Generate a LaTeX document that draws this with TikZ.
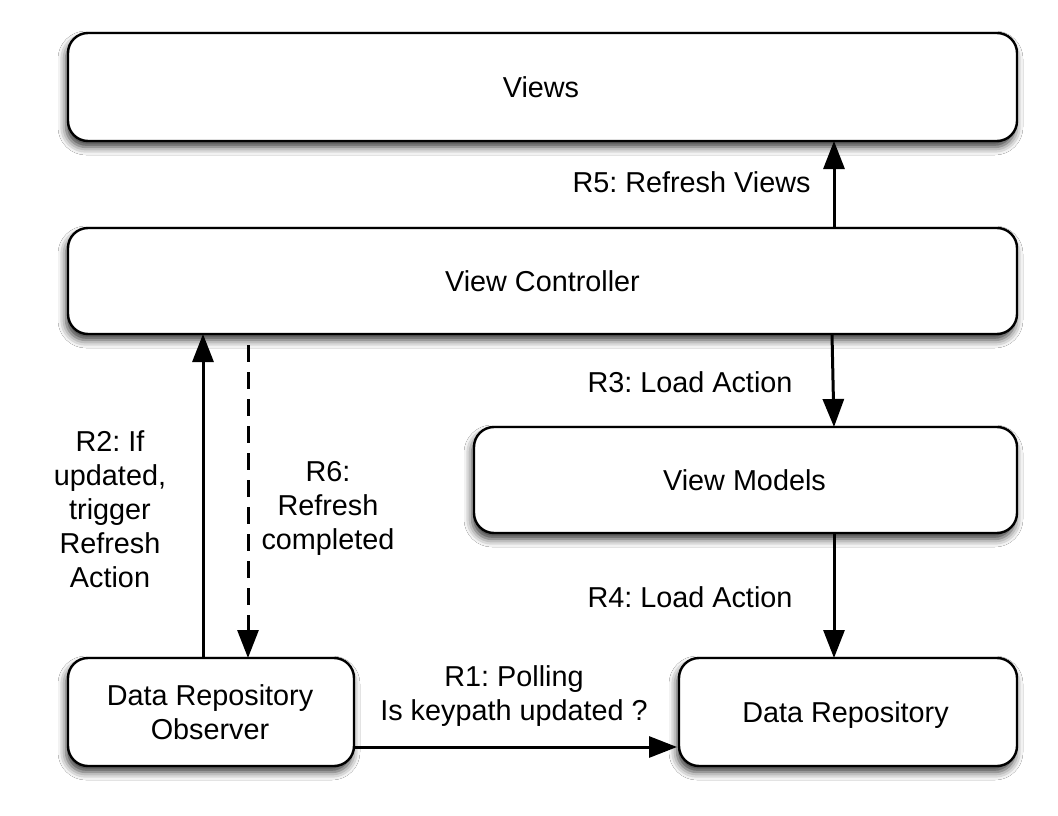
\documentclass[tikz,border=0pt]{standalone}
\usepackage{fontspec}
\setmainfont{Liberation Sans}
\usetikzlibrary{arrows.meta,shadows.blur}
\frenchspacing
\begin{document}
\begin{tikzpicture}[x=1pt,y=-1pt,
  box/.style={draw=black, line width=2.4pt, rounded corners=20pt, fill=white,
    blur shadow={shadow xshift=-2pt, shadow yshift=-6pt, shadow blur radius=8pt, shadow opacity=80}},
  txt/.style={font=\fontsize{28.8}{34}\selectfont, align=center, inner sep=0pt, anchor=base},
  flow/.style={line width=3pt, -{Triangle[length=28pt,width=21pt]}}]
\useasboundingbox (0,0) rectangle (1058,816);
\fill[white] (0,0) rectangle (1058,816);

% boxes
\node[box, minimum width=949pt, minimum height=108pt] (views) at (542.5,87) {};
\node[box, minimum width=949pt, minimum height=106pt] (vc) at (542.5,281) {};
\node[box, minimum width=543pt, minimum height=106pt] (vm) at (745.5,480) {};
\node[box, minimum width=286pt, minimum height=108pt] (obs) at (211,712) {};
\node[box, minimum width=338pt, minimum height=108pt] (repo) at (848,712) {};

% box captions (base = baseline of the last line)
\node[txt] (tviews) at (541,97) {Views};
\node[txt] (tvc) at (542.5,291) {View Controller};
\node[txt] (tvm) at (744.5,490) {View Models};
\node[txt] (tobs) at (210,739) {Data Repository\\Observer};
\node[txt] (trepo) at (845.5,722) {Data Repository};

% anchor points on box borders
\coordinate (r5s) at (834,228);
\coordinate (r5e) at (834,141);
\coordinate (r3s) at (832,334);
\coordinate (r3e) at (834,427);
\coordinate (r4s) at (834,533);
\coordinate (r4e) at (834,658);
\coordinate (r2s) at (203,658);
\coordinate (r2e) at (203,334);
\coordinate (r6s) at (248,345);
\coordinate (r6e) at (248,658);
\coordinate (r1s) at (354,747);
\coordinate (r1e) at (677,747);

% connectors
\draw[flow] (r5s) -- (r5e);
\draw[flow] (r3s) -- (r3e);
\draw[flow] (r4s) -- (r4e);
\draw[flow] (r2s) -- (r2e);
\draw[flow, dash pattern=on 17pt off 10pt] (r6s) -- (r6e);
\draw[flow] (r1s) -- (r1e);

% connector labels
\node[txt] (l5) at (691.5,192) {R5: Refresh Views};
\node[txt] (l3) at (690,392) {R3: Load Action};
\node[txt] (l4) at (690,607) {R4: Load Action};
\node[txt] (l2) at (110,587) {R2: If\\updated,\\trigger\\Refresh\\Action};
\node[txt] (l6) at (328,549) {R6:\\Refresh\\completed};
\node[txt] (l1) at (514,720) {R1: Polling\\Is keypath updated ?};
\end{tikzpicture}
\end{document}
